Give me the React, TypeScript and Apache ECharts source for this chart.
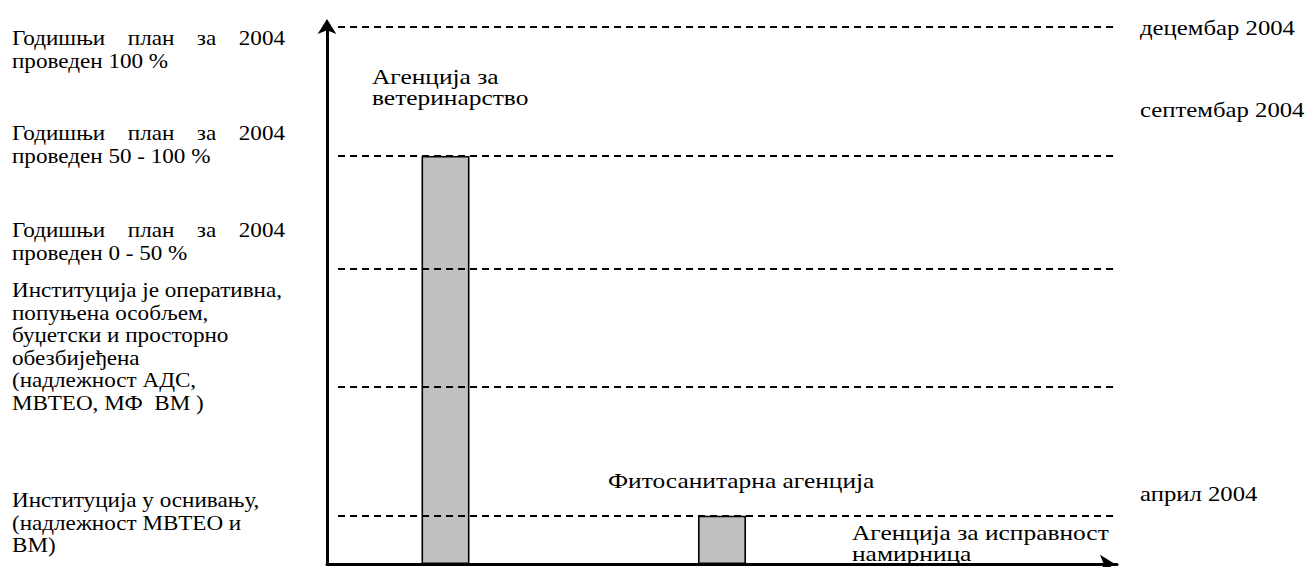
import React, { useEffect, useRef } from 'react';
import * as echarts from 'echarts';

// ---- data ----
const agencies = ['Агенција за ветеринарство', 'Фитосанитарна агенција', 'Агенција за исправност намирница'];
const agencyPositions = [15, 50, 85]; // position along the horizontal axis (0-100)
const agencyLevels = [76, 9, 0]; // reached level (0-100 scale of the vertical axis)
const levelValues = [9, 33, 55, 76, 100]; // dashed reference levels
const dateLabels = ['април 2004', 'септембар 2004', 'децембар 2004'];
const leftLabels = [
  ['Годишњи план за 2004', 'проведен 100 %'],
  ['Годишњи план за 2004', 'проведен 50 - 100 %'],
  ['Годишњи план за 2004', 'проведен 0 - 50 %'],
  ['Институција је оперативна,', 'попуњена особљем,', 'буџетски и просторно', 'обезбијеђена', '(надлежност АДС,', 'МВТЕО, МФ  ВМ )'],
  ['Институција у оснивању,', '(надлежност МВТЕО и', 'ВМ)'],
];
const agencyLabelLines = [['Агенција за', 'ветеринарство'], ['Фитосанитарна агенција'], ['Агенција за исправност', 'намирница']];

export default function App() {
  const ref = useRef<HTMLDivElement>(null);
  useEffect(() => {
    if (!ref.current) return;
    const chart = echarts.init(ref.current, null, { renderer: 'svg' });
    const FS = 21;
    const FAMILY = 'Liberation Serif';
    const ctx = document.createElement('canvas').getContext('2d')!;
    ctx.font = `${FS}px "${FAMILY}"`;
    const measure = (t: string) => ctx.measureText(t).width;
    const S = 270 / measure('Институција је оперативна,');
    const PITCH = 22.5;

    const txt = (t: string, x: number, y: number, sx: number = S) => ({
      type: 'text',
      x,
      y,
      scaleX: sx,
      silent: true,
      style: {
        text: t,
        fill: '#000',
        fontFamily: FAMILY,
        fontSize: FS,
        textAlign: 'left',
        textVerticalAlign: 'middle',
      },
    });

    const elements: any[] = [];
    // left descriptive labels
    const leftBlockY = [38, 133, 230, 290, 500];
    const justified = [true, true, true, false, false];
    leftLabels.forEach((lines, bi) => {
      lines.forEach((line, li) => {
        const y = leftBlockY[bi] + li * PITCH;
        if (justified[bi] && li === 0) {
          const words = line.split(' ');
          const widths = words.map((w) => measure(w) * S);
          const total = widths.reduce((a, b) => a + b, 0);
          const gap = (285 - 12 - total) / (words.length - 1);
          let x = 12;
          words.forEach((w, wi) => {
            elements.push(txt(w, x, y));
            x += widths[wi] + gap;
          });
        } else {
          elements.push(txt(line, 12, y));
        }
      });
    });

    // date labels on the right
    const dateY = [494, 110, 28];
    dateLabels.forEach((d, i) => elements.push(txt(d, 1140, dateY[i], S * 1.07)));

    // agency labels
    const agencyAnchor = [
      [372, 77],
      [608, 481],
      [852, 533],
    ];
    agencyLabelLines.forEach((lines, i) => {
      lines.forEach((line, li) => {
        elements.push(txt(line, agencyAnchor[i][0], agencyAnchor[i][1] + li * 21, S * 1.1));
      });
    });

    const axisLineStyle = { color: '#000', width: 3 };
    chart.setOption({
      animation: false,
      backgroundColor: '#fff',
      grid: { left: 327, right: 193, top: 27, bottom: 3 },
      xAxis: {
        type: 'value',
        min: 0,
        max: 100,
        axisLine: {
          show: true,
          onZero: false,
          symbol: ['none', 'arrow'],
          symbolSize: [14, 15],
          symbolOffset: [0, -2],
          lineStyle: axisLineStyle,
        },
        axisTick: { show: false },
        axisLabel: { show: false },
        splitLine: { show: false },
      },
      yAxis: {
        type: 'value',
        min: 0,
        max: 100,
        axisLine: {
          show: true,
          symbol: ['none', 'arrow'],
          symbolSize: [14, 15],
          symbolOffset: [0, 8],
          lineStyle: axisLineStyle,
        },
        axisTick: { show: false },
        axisLabel: { show: false },
        splitLine: { show: false },
      },
      series: [
        {
          type: 'line',
          data: [],
          z: 1,
          silent: true,
          markLine: {
            silent: true,
            symbol: ['none', 'none'],
            label: { show: false },
            lineStyle: { color: '#000', width: 1.8, type: [7, 5] },
            data: levelValues.map((v) => [{ coord: [1.4, v] }, { coord: [100, v] }]),
          },
        },
        {
          type: 'bar',
          name: 'Агенције',
          z: 3,
          barWidth: 48,
          silent: true,
          itemStyle: { color: '#c0c0c0', borderColor: '#000', borderWidth: 1.6 },
          data: agencyPositions.map((p, i) => ({ name: agencies[i], value: [p, agencyLevels[i]] })),
        },
      ],
      graphic: elements,
    });
    return () => chart.dispose();
  }, []);
  return <div ref={ref} style={{ position: 'absolute', left: 0, top: 0, width: 1310, height: 567 }} />;
}
